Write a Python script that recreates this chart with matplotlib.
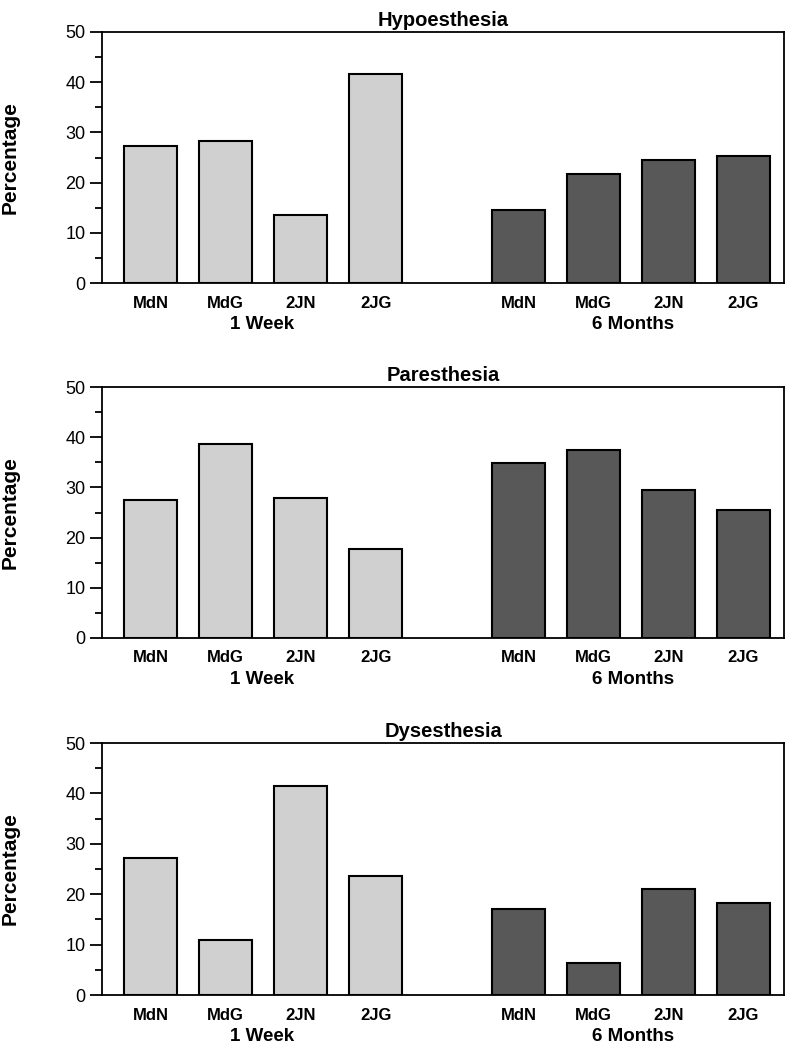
import matplotlib.pyplot as plt
from matplotlib.ticker import MultipleLocator
import matplotlib.transforms as mtransforms

plt.rcParams['font.family'] = ['Liberation Sans', 'DejaVu Sans']

groups = ['MdN', 'MdG', '2JN', '2JG']
periods = ['1 Week', '6 Months']
titles = ['Hypoesthesia', 'Paresthesia', 'Dysesthesia']

# percentages per panel: (1 week, 6 months)
hypo_week = [27.2, 28.2, 13.5, 41.7]
hypo_month = [14.5, 21.8, 24.6, 25.3]
pares_week = [27.5, 38.7, 27.8, 17.8]
pares_month = [34.8, 37.4, 29.4, 25.5]
dyses_week = [27.2, 10.9, 41.4, 23.7]
dyses_month = [17.0, 6.4, 21.1, 18.3]

panels = [(hypo_week, hypo_month), (pares_week, pares_month), (dyses_week, dyses_month)]

light = '#d0d0d0'
dark = '#585858'

fig = plt.figure(figsize=(8, 10.5), dpi=100)
W, H = 800, 1050
left, right = 102, 784
tops = [32, 387, 743]
bottoms = [283, 638, 995]

pos_week = [0, 1, 2, 3]
pos_month = [4.9, 5.9, 6.9, 7.9]

for i, (title, (wk, mo)) in enumerate(zip(titles, panels)):
    ax = fig.add_axes([left / W, 1 - bottoms[i] / H, (right - left) / W, (bottoms[i] - tops[i]) / H])
    ax.bar(pos_week, wk, width=0.71, color=light, edgecolor='black', linewidth=1.5)
    ax.bar(pos_month, mo, width=0.71, color=dark, edgecolor='black', linewidth=1.5)
    ax.set_xlim(-0.65, 8.44)
    ax.set_ylim(0, 50)
    ax.yaxis.set_major_locator(MultipleLocator(10))
    ax.yaxis.set_minor_locator(MultipleLocator(5))
    ax.tick_params(axis='y', which='major', length=9, width=1.3, labelsize=13, pad=3)
    ax.tick_params(axis='y', which='minor', length=5, width=1.3)
    ax.set_xticks(pos_week + pos_month)
    ax.set_xticklabels(groups + groups, fontweight='bold', fontsize=12)
    ax.tick_params(axis='x', length=0, pad=9)
    for sp in ax.spines.values():
        sp.set_linewidth(1.3)
    ax.set_ylabel('Percentage', fontweight='bold', fontsize=15, labelpad=33)
    ax.set_title(title, fontweight='bold', fontsize=14.5, pad=4)
    trans = mtransforms.blended_transform_factory(ax.transData, ax.transAxes)
    ax.text(1.48, -0.165, periods[0], transform=trans, ha='center', va='center',
            fontweight='bold', fontsize=13.5)
    ax.text(6.43, -0.165, periods[1], transform=trans, ha='center', va='center',
            fontweight='bold', fontsize=13.5)

fig.savefig('out.png', dpi=100)
